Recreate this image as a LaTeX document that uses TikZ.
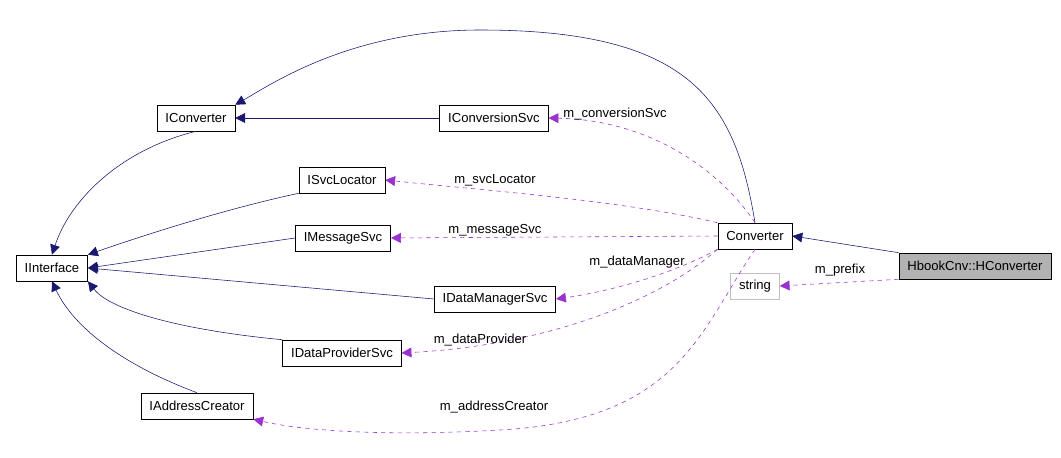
\documentclass[tikz,border=0pt]{standalone}
\usepackage{fontspec}
\setmainfont{Liberation Sans}
\usetikzlibrary{arrows.meta}
\definecolor{navy}{RGB}{25,25,112}
\definecolor{relpurple}{RGB}{154,50,205}
\tikzset{
	cls/.style = {draw, fill=white, minimum height=0.65cm, inner xsep=6pt, font=\fontsize{9.3}{11}\selectfont},
	inherit/.style = {navy, -{Triangle[length=7pt,width=7pt]}},
	use/.style = {relpurple, dashed, -{Triangle[length=7pt,width=7pt]}},
	lbl/.style = {font=\fontsize{9.3}{11}\selectfont, black, inner sep=1pt}
}
\begin{document}
\begin{tikzpicture}[x=0.025cm,y=-0.025cm]
	\useasboundingbox (0,0) rectangle (1061,458);
	% classes
	\node[cls] (iconv) at (196,118) {IConverter};
	\node[cls] (iconvsvc) at (494,118) {IConversionSvc};
	\node[cls] (isvcloc) at (342,180) {ISvcLocator};
	\node[cls] (iint) at (52,268) {IInterface};
	\node[cls] (imsg) at (343,238) {IMessageSvc};
	\node[cls] (idm) at (495,299) {IDataManagerSvc};
	\node[cls] (idp) at (342,353) {IDataProviderSvc};
	\node[cls] (iac) at (197,406) {IAddressCreator};
	\node[cls] (conv) at (755,236) {Converter};
	\node[cls, fill=gray!60] (hconv) at (975,266) {HbookCnv::HConverter};
	\node[cls, draw=gray!50] (str) at (755,286) {string};
	% inheritance
	\draw[inherit] (hconv.north west) -- (conv.east);
	\draw[inherit] (conv.north) .. controls (735,100) and (690,30) .. (480,30) .. controls (350,30) and (270,85) .. (iconv.north east);
	\draw[inherit] (iconvsvc) -- (iconv);
	\draw[inherit] (iconv.south) .. controls (120,150) and (70,200) .. (iint.north);
	\draw[inherit] (isvcloc.south west) .. controls (220,210) and (130,240) .. (iint.north east);
	\draw[inherit] (imsg.west) -- (iint.east);
	\draw[inherit] (idm.west) -- (iint.east);
	\draw[inherit] (idp.north west) .. controls (180,330) and (110,310) .. (iint.south east);
	\draw[inherit] (iac.north) .. controls (110,360) and (70,320) .. (iint.south);
	% members
	\draw[use] (conv.north) .. controls (720,170) and (650,120) .. (iconvsvc.east);
	\draw[use] (conv.north west) .. controls (620,200) and (480,190) .. (isvcloc.east);
	\draw[use] (conv.west) -- (imsg.east);
	\draw[use] (conv.south west) .. controls (680,270) and (620,290) .. (idm.east);
	\draw[use] (conv.south west) .. controls (660,300) and (550,345) .. (idp.east);
	\draw[use] (conv.south) .. controls (700,330) and (680,420) .. (500,430) .. controls (380,437) and (300,430) .. (iac.south east);
	\draw[use] (hconv.south west) -- (str.east);
	% labels
	\node[lbl] (lconvsvc) at (615,114) {m\_conversionSvc};
	\node[lbl] (lsvcloc) at (495,180) {m\_svcLocator};
	\node[lbl] (lmsg) at (495,230) {m\_messageSvc};
	\node[lbl] (ldm) at (637,262) {m\_dataManager};
	\node[lbl] (ldp) at (480,340) {m\_dataProvider};
	\node[lbl] (lac) at (494,407) {m\_addressCreator};
	\node[lbl] (lprefix) at (840,270) {m\_prefix};
\end{tikzpicture}
\end{document}
